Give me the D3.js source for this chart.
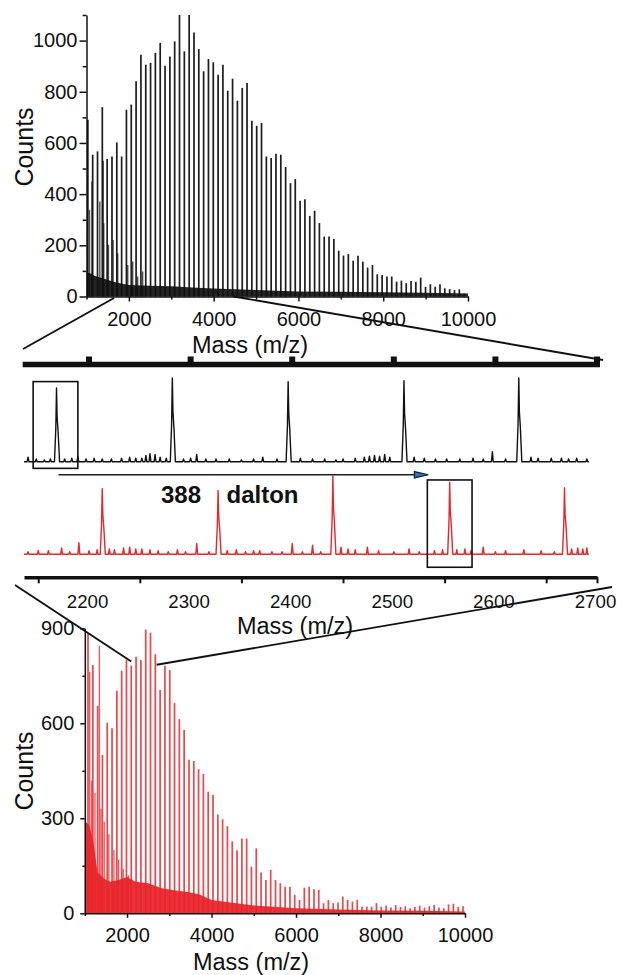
<!DOCTYPE html>
<html>
<head>
<meta charset="utf-8">
<script src="https://cdn.jsdelivr.net/npm/d3@7"></script>
<style>
  html, body { margin: 0; padding: 0; background: #fff; }
  svg { display: block; }
</style>
</head>
<body>
<svg id="chart" width="617" height="975"></svg>
<script>
// ---------- full-range spectrum, black trace (counts vs m/z) ----------
const blackPeakMass = [1032,1146,1260,1373,1487,1601,1715,1829,1942,2056,
  2170,2284,2398,2511,2625,2739,2853,2967,3080,3194,
  3308,3422,3536,3649,3763,3877,3991,4105,4218,4332,
  4446,4560,4674,4787,4901,5015,5129,5243,5356,5470,
  5584,5698,5812,5925,6039,6153,6267,6381,6494,6608,
  6722,6836,6950,7063,7177,7291,7405,7519,7632,7746,
  7860,7974,8088,8201,8315,8429,8543,8657,8770,8884,
  8998,9112,9226,9339,9453,9567,9681,9795,9908];
const blackPeakCounts = [691,554,567,740,537,547,602,547,730,750,
  841,945,906,913,952,991,902,938,997,1150,
  958,1150,1032,967,880,928,915,867,906,804,
  851,765,815,834,687,667,678,547,541,558,
  554,506,443,459,374,380,315,335,287,234,
  234,225,179,160,166,140,159,136,113,123,
  87,84,78,78,58,62,52,61,58,74,
  38,48,38,48,32,29,25,28,12];
const blackSideMass   = [1071,1126,1314,1395,1408,1518,1628,1737,1973,2090,2208,2325];
const blackSideCounts = [339,449,371,530,286,202,221,169,123,137,78,98];
const blackFloorMass   = [1000,1100,1200,1400,1700,2000,2500,3000,3500,4000,4500,5000,6000,7000,8000,9000,10000];
const blackFloorCounts = [95,90,80,70,55,45,42,40,35,31,28,25,20,19,17,15,12];

// ---------- full-range spectrum, red trace ----------
const redPeakMass = [1076,1190,1304,1417,1531,1645,1759,1873,1986,2100,
  2214,2328,2442,2555,2669,2783,2897,3011,3124,3238,
  3352,3466,3580,3693,3807,3921,4035,4149,4262,4376,
  4490,4604,4718,4831,4945,5059,5173,5287,5400,5514,
  5628,5742,5856,5969,6083,6197,6311,6425,6538,6652,
  6766,6880,6994,7107,7221,7335,7449,7563,7676,7790,
  7904,8018,8132,8245,8359,8473,8587,8701,8814,8928,
  9042,9156,9270,9383,9497,9611,9725,9839,9952];
const redPeakCounts = [884,784,655,500,602,584,703,766,800,782,
  810,800,896,886,818,705,782,768,664,613,
  579,485,481,455,440,384,374,312,297,275,
  227,199,236,236,147,205,129,105,137,105,
  95,84,84,58,42,81,84,76,74,32,
  42,32,34,53,42,37,42,21,21,21,
  32,21,24,18,26,20,22,16,20,24,
  18,22,26,18,16,28,30,20,22];
const redSideMass   = [1116,1160,1240,1345,1380,1460,1570,1690,1800,1910,2030];
const redSideCounts = [763,420,380,845,330,290,250,200,170,140,120];
const redFloorMass   = [1000,1100,1200,1300,1450,1600,1800,2000,2200,2500,2800,3100,3400,3700,4000,4400,5000,6000,7000,8000,9000,10000];
const redFloorCounts = [290,280,230,130,110,100,105,115,100,95,80,73,68,60,42,35,25,16,12,9,8,6];

// ---------- 2136-2700 m/z detail (relative intensity) ----------
const zoomBlackMass = [2140,2148,2156,2162,2168,2176,2183,2189,2197,2205,2213,2222,2232,2240,2246,
  2252,2256,2260,2265,2270,2276,2282,2293,2300,2306,2315,2325,2338,2350,2362,
  2371,2385,2396,2408,2420,2432,2443,2450,2462,2471,2476,2481,2486,2491,2496,
  2510,2520,2530,2541,2552,2565,2578,2588,2597,2610,2623,2635,2642,2655,2665,
  2672,2680,2690];
const zoomBlackIntensity = [5,3,2,3,82,3,4,6,3,4,3,3,4,5,4,
  4,7,9,8,5,4,93,3,4,8,3,3,3,2,3,
  5,3,89,4,3,3,2,3,4,5,6,7,6,8,5,
  90,5,4,3,3,3,4,3,11,3,93,5,4,4,4,
  3,4,3];
const zoomRedMass = [2140,2150,2160,2173,2181,2190,2200,2208,2213,2220,2225,2234,2240,2246,2252,
  2260,2268,2278,2287,2295,2306,2318,2327,2336,2345,2354,2362,2368,2380,2390,
  2400,2410,2420,2428,2440,2448,2455,2462,2474,2485,2500,2515,2525,2540,2548,
  2555,2562,2570,2576,2588,2600,2610,2628,2645,2658,2668,2675,2681,2686,2690];
const zoomRedIntensity = [3,4,4,7,3,13,4,5,73,6,5,7,8,6,6,
  5,4,3,5,3,12,3,71,4,5,3,4,4,3,3,
  12,3,10,3,87,8,6,5,8,4,3,6,3,4,5,
  80,5,6,4,8,3,4,5,4,3,74,6,7,6,7];
const boxedPeakMass = [2167, 2555];        // peaks framed in the detail view
const shiftArrowMass = [2170, 2534];       // the 388 Da shift arrow
const shiftLabel = ["388", "dalton"];

// ---------- ticks ----------
const massTicks = [2000,4000,6000,8000,10000];
const massMinorTicks = [1000,3000,5000,7000,9000];
const topCountTicks = [0,200,400,600,800,1000];
const topCountMinor = [100,300,500,700,900,1100];
const bottomCountTicks = [0,300,600,900];
const bottomCountMinor = [150,450,750];
const zoomTicks = [2200,2300,2400,2500,2600,2700];
const zoomMinorTicks = [2150,2250,2350,2450,2550,2650];
const massTitle = "Mass (m/z)";
const countTitle = "Counts";

// ---------- drawing ----------
const FONT = "'Liberation Sans', Arial, Helvetica, sans-serif";
const INK = "#111";
const RED = "#e8262c";
const plain = d3.format("d");
const svg = d3.select("#chart");
const zip = (a, b) => a.map((v, i) => [v, b[i]]);

function styleAxis(g, size, width) {
  g.attr("font-family", FONT).attr("font-size", size);
  g.selectAll("path.domain").attr("stroke", INK).attr("stroke-width", width);
  g.selectAll(".tick line").attr("stroke", INK).attr("stroke-width", width);
  g.selectAll(".tick text").attr("fill", INK);
}

function spectrumPanel(o) {
  const { x, y, color, peaks, side, floor, countTicks, countMinor, labelPad, barWidth, tickY, tickX } = o;
  const base = y(0);
  // dense low-level floor
  svg.append("path")
    .datum(floor)
    .attr("fill", color)
    .attr("opacity", o.floorOpacity)
    .attr("d", d3.area().x(d => x(d[0])).y0(base).y1(d => y(d[1])));
  // secondary peaks
  svg.append("g").selectAll("line").data(side).join("line")
    .attr("x1", d => x(d[0])).attr("x2", d => x(d[0]))
    .attr("y1", base).attr("y2", d => y(d[1]))
    .attr("stroke", color).attr("stroke-width", barWidth * 0.8).attr("opacity", 0.75);
  // main cluster series
  svg.append("g").selectAll("line").data(peaks).join("line")
    .attr("x1", d => x(d[0])).attr("x2", d => x(d[0]))
    .attr("y1", base).attr("y2", d => y(d[1]))
    .attr("stroke", color).attr("stroke-width", barWidth).attr("opacity", o.barOpacity);

  const x0 = x.range()[0];
  // count axis
  const ay = svg.append("g").attr("transform", `translate(${x0},0)`)
    .call(d3.axisLeft(y).tickValues(countTicks).tickFormat(plain).tickSize(tickY).tickSizeOuter(0).tickPadding(o.yPad));
  styleAxis(ay, o.fontSize, 1.5);
  const ayMinor = svg.append("g").attr("transform", `translate(${x0},0)`)
    .call(d3.axisLeft(y).tickValues(countMinor).tickSize(tickY * 0.55).tickFormat(""));
  ayMinor.select(".domain").remove();
  styleAxis(ayMinor, o.fontSize, 1.5);
  // mass axis
  const ax = svg.append("g").attr("transform", `translate(0,${base})`)
    .call(d3.axisBottom(x).tickValues(massTicks).tickFormat(plain).tickSize(tickX).tickSizeOuter(0).tickPadding(labelPad));
  styleAxis(ax, o.fontSize, 1.5);
  const axMinor = svg.append("g").attr("transform", `translate(0,${base})`)
    .call(d3.axisBottom(x).tickValues(massMinorTicks).tickSize(tickX * 0.6).tickFormat(""));
  axMinor.select(".domain").remove();
  styleAxis(axMinor, o.fontSize, 1.5);

  svg.append("text").attr("x", o.titleX).attr("y", o.titleY)
    .attr("text-anchor", "middle").attr("font-family", FONT).attr("font-size", 23.5)
    .attr("fill", INK).text(massTitle);
  svg.append("text").attr("transform", `translate(33,${o.countsY}) rotate(-90)`)
    .attr("text-anchor", "middle").attr("font-family", FONT).attr("font-size", 25)
    .attr("fill", INK).text(countTitle);
}

// top: black spectrum
const xTop = d3.scaleLinear().domain([1000, 10000]).range([86.5, 468]);
const yTop = d3.scaleLinear().domain([0, 1100]).range([296.5, 15]).clamp(true);
spectrumPanel({
  x: xTop, y: yTop, color: INK,
  peaks: zip(blackPeakMass, blackPeakCounts),
  side: zip(blackSideMass, blackSideCounts),
  floor: zip(blackFloorMass, blackFloorCounts),
  countTicks: topCountTicks, countMinor: topCountMinor,
  tickY: 7, tickX: 5, yPad: 2, labelPad: 10.5, fontSize: 20,
  barWidth: 1.7, barOpacity: 0.95, floorOpacity: 0.92,
  titleX: 250, titleY: 353, countsY: 147
});

// bottom: red spectrum
const xBot = d3.scaleLinear().domain([1000, 10000]).range([84.8, 465]);
const yBot = d3.scaleLinear().domain([0, 900]).range([913.3, 628.3]).clamp(true);
spectrumPanel({
  x: xBot, y: yBot, color: RED,
  peaks: zip(redPeakMass, redPeakCounts),
  side: zip(redSideMass, redSideCounts),
  floor: zip(redFloorMass, redFloorCounts),
  countTicks: bottomCountTicks, countMinor: bottomCountMinor,
  tickY: 4.5, tickX: 4.5, yPad: 6, labelPad: 10, fontSize: 20,
  barWidth: 1.7, barOpacity: 0.85, floorOpacity: 0.95,
  titleX: 251, titleY: 970, countsY: 771
});

// middle: detail of 2136-2700 m/z
const xZoom = d3.scaleLinear().domain([2136, 2700]).range([24, 597]);
const yZB = d3.scaleLinear().domain([0, 100]).range([461.7, 371.7]);
const yZR = d3.scaleLinear().domain([0, 100]).range([554.3, 464.3]);

function tracePoints(masses, values) {
  const order = d3.range(masses.length).sort((a, b) => masses[a] - masses[b]);
  const pts = [[xZoom.domain()[0], 0]];
  for (const i of order) {
    const m = masses[i], h = values[i];
    if (h > 30) {
      pts.push([m - 2, 0], [m - 0.7, h * 0.45], [m, h], [m + 0.6, h * 0.6], [m + 1.6, h * 0.4], [m + 3, 0]);
    } else {
      pts.push([m - 0.9, 0], [m, h], [m + 0.9, 0]);
    }
  }
  pts.push([xZoom.domain()[1] - 8, 0]);
  return pts;
}

svg.append("path")
  .attr("fill", "none").attr("stroke", INK).attr("stroke-width", 1.4).attr("stroke-linejoin", "round")
  .attr("d", d3.line().x(d => xZoom(d[0])).y(d => yZB(d[1]))(tracePoints(zoomBlackMass, zoomBlackIntensity)));
svg.append("path")
  .attr("fill", "none").attr("stroke", RED).attr("stroke-width", 1.4).attr("stroke-linejoin", "round")
  .attr("d", d3.line().x(d => xZoom(d[0])).y(d => yZR(d[1]))(tracePoints(zoomRedMass, zoomRedIntensity)));

// framed peaks
const boxHalf = 22;
svg.append("rect")
  .attr("x", xZoom(boxedPeakMass[0] - boxHalf)).attr("width", xZoom(boxedPeakMass[0] + boxHalf) - xZoom(boxedPeakMass[0] - boxHalf))
  .attr("y", yZB(89)).attr("height", yZB(-7.4) - yZB(89))
  .attr("fill", "none").attr("stroke", INK).attr("stroke-width", 1.6);
svg.append("rect")
  .attr("x", xZoom(boxedPeakMass[1] - boxHalf)).attr("width", xZoom(boxedPeakMass[1] + boxHalf) - xZoom(boxedPeakMass[1] - boxHalf))
  .attr("y", yZR(82.6)).attr("height", yZR(-14.4) - yZR(82.6))
  .attr("fill", "none").attr("stroke", INK).attr("stroke-width", 1.6);

// shift arrow
const arrowY = yZB(-14.5);
const ax1 = xZoom(shiftArrowMass[0]), ax2 = xZoom(shiftArrowMass[1]);
svg.append("line").attr("x1", ax1).attr("x2", ax2 - 12).attr("y1", arrowY).attr("y2", arrowY)
  .attr("stroke", "#1b1f24").attr("stroke-width", 1.7);
svg.append("path")
  .attr("d", `M${ax2},${arrowY} L${ax2 - 14},${arrowY - 3.2} L${ax2 - 14},${arrowY + 3.2} Z`)
  .attr("fill", "#2a78b8").attr("stroke", "#14202c").attr("stroke-width", 1.2);
svg.append("text").attr("x", 161).attr("y", 503.3)
  .attr("font-family", FONT).attr("font-weight", "bold").attr("font-size", 24).attr("fill", INK)
  .text(shiftLabel[0]);
svg.append("text").attr("x", 226.5).attr("y", 503.3)
  .attr("font-family", FONT).attr("font-weight", "bold").attr("font-size", 24).attr("fill", INK)
  .text(shiftLabel[1]);

// heavy top rule of the detail view with its tick blocks
svg.append("line").attr("x1", xZoom.range()[0] - 1.3).attr("x2", xZoom.range()[1] + 3)
  .attr("y1", 364.5).attr("y2", 364.5).attr("stroke", INK).attr("stroke-width", 5.5);
svg.append("g").selectAll("rect").data(zoomTicks).join("rect")
  .attr("x", d => xZoom(d) - 3).attr("y", 356.5).attr("width", 6).attr("height", 6).attr("fill", INK);

// detail mass axis
const zAxisY = 577.3;
const za = svg.append("g").attr("transform", `translate(0,${zAxisY})`)
  .call(d3.axisBottom(xZoom).tickValues(zoomTicks).tickFormat(plain).tickSize(0).tickSizeOuter(0).tickPadding(17.7));
styleAxis(za, 18.7, 3.6);
za.selectAll(".tick text").attr("dx", -2);
const zaMinor = svg.append("g").attr("transform", `translate(0,${zAxisY})`)
  .call(d3.axisBottom(xZoom).tickValues(zoomMinorTicks.concat([2700])).tickSize(6).tickFormat(""));
zaMinor.select(".domain").remove();
styleAxis(zaMinor, 18.7, 2);
svg.append("text").attr("x", 295).attr("y", 634)
  .attr("text-anchor", "middle").attr("font-family", FONT).attr("font-size", 23.5)
  .attr("fill", INK).text(massTitle);

// callout lines tying the detail view to both spectra
const callouts = [
  [[23, 349], [xTop(1650), 298]],
  [[xTop(4470), yTop(0)], [603, 360]],
  [[15, 585], [xBot(2100), yBot(795)]],
  [[xBot(2700), yBot(785)], [612, 587]]
];
svg.append("g").selectAll("line").data(callouts).join("line")
  .attr("x1", d => d[0][0]).attr("y1", d => d[0][1])
  .attr("x2", d => d[1][0]).attr("y2", d => d[1][1])
  .attr("stroke", INK).attr("stroke-width", 1.9);
</script>
</body>
</html>
